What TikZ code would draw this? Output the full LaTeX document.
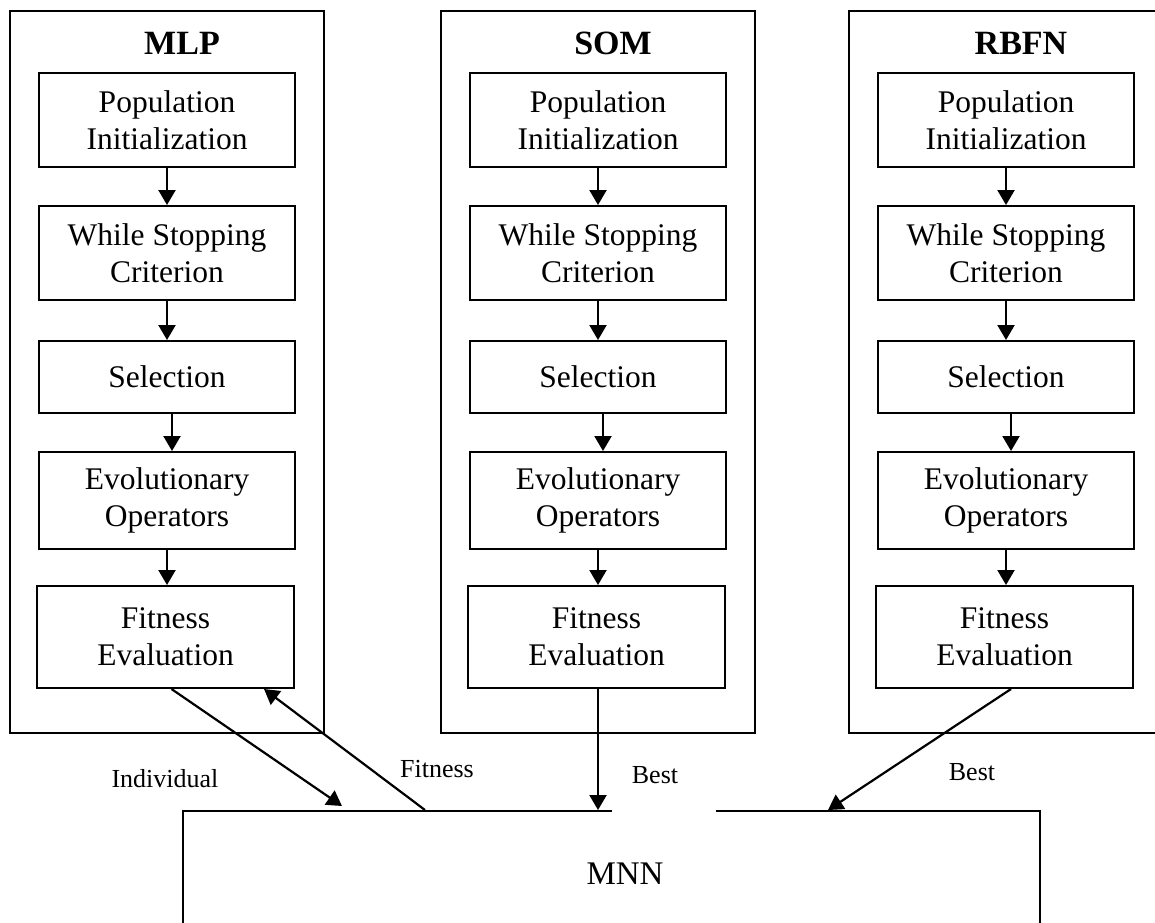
\documentclass[tikz,border=0pt]{standalone}
\usepackage{fontspec}
\setmainfont{Liberation Serif}
\usetikzlibrary{arrows.meta,calc}
\begin{document}
\begin{tikzpicture}[x=1pt,y=-1pt,
  lw/.style={line width=2pt},
  stepbox/.style={draw, line width=2pt, minimum width=256pt, align=center, inner sep=0pt, font=\fontsize{31.5}{37}\selectfont},
  outerbox/.style={draw, line width=2pt, minimum width=314pt, minimum height=722pt, anchor=north west, inner sep=0pt},
  title/.style={font=\bfseries\fontsize{34}{40}\selectfont, anchor=base},
  lbl/.style={font=\fontsize{26}{30}\selectfont},
  arr/.style={line width=2.2pt, -{Triangle[length=15pt,width=17pt]}},
]
\clip (0,0) rectangle (1155,922);
\fill[white] (0,0) rectangle (1155,922);
\foreach \c/\dx/\t in {1/0/MLP,2/431/SOM,3/839/RBFN}{
  \node[outerbox] (col\c) at (9+\dx,10) {};
  \node[title] (title\c) at (182+\dx,54) {\t};
  \node[stepbox, minimum height=94pt] (pop\c) at (167+\dx,120) {Population\\Initialization};
  \node[stepbox, minimum height=94pt] (while\c) at (167+\dx,253) {While Stopping\\Criterion};
  \node[stepbox, minimum height=72pt] (sel\c) at (167+\dx,377) {Selection};
  \node[stepbox, minimum height=97pt] (evo\c) at (167+\dx,500.5) {Evolutionary\\Operators};
  \node[stepbox, minimum height=102pt, minimum width=257pt] (fit\c) at (165.5+\dx,637) {Fitness\\Evaluation};
  \draw[arr] (pop\c.south) -- (pop\c.south |- while\c.north);
  \draw[arr] (while\c.south) -- (while\c.south |- sel\c.north);
  \draw[arr] ([xshift=5pt]sel\c.south) -- ([xshift=5pt]sel\c.south |- evo\c.north);
  \draw[arr] (evo\c.south) -- (evo\c.south |- fit\c.north);
}
\node[draw, lw, minimum width=857pt, minimum height=250pt, anchor=north west, inner sep=0pt] (mnn) at (182,810) {};
\node[font=\fontsize{33}{38}\selectfont] (mnnlbl) at (625,874) {MNN};
\coordinate (indtip) at ($(mnn.north west)+(160,-4)$);
\coordinate (fitstart) at ($(mnn.north west)+(243,0)$);
\coordinate (rbftip) at ($(mnn.north west)+(646,0)$);
\draw[arr] ([xshift=6pt]fit1.south) -- (indtip);
\draw[arr] (fitstart) -- ($(fit1.south east)+(-31,0)$);
\draw[arr] ([xshift=1.5pt]fit2.south) -- ([xshift=1.5pt]fit2.south |- mnn.north);
\draw[arr] ([xshift=6.5pt]fit3.south) -- (rbftip);
\fill[white] (612,807.5) rectangle (716,812.5);
\node[lbl] (lind) at (165,779) {Individual};
\node[lbl] (lfit) at (437,769) {Fitness};
\node[lbl] (lbest2) at (655,775.5) {Best};
\node[lbl] (lbest3) at (972,772.5) {Best};
\end{tikzpicture}
\end{document}
